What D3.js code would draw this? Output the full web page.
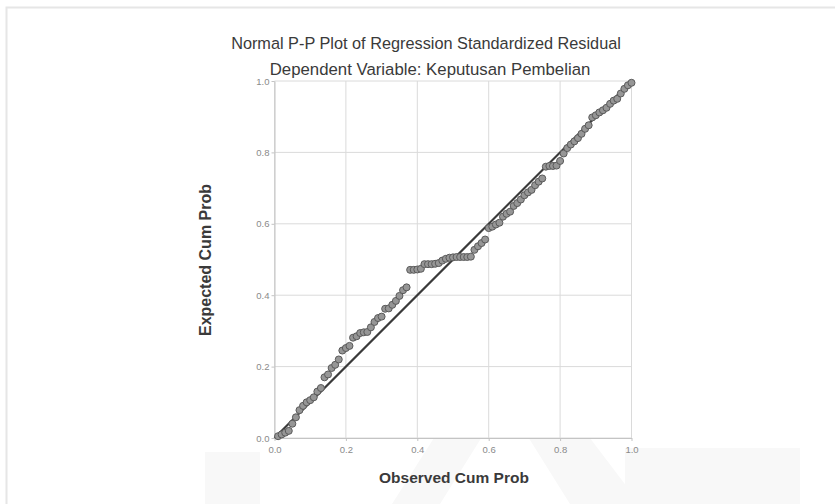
<!DOCTYPE html>
<html>
<head>
<meta charset="utf-8">
<script src="https://cdn.jsdelivr.net/npm/d3@7"></script>
<style>
  html, body { margin: 0; padding: 0; background: #ffffff; }
  svg { display: block; font-family: "Liberation Sans", Arial, sans-serif; }
</style>
</head>
<body>
<svg id="chart" width="835" height="504"></svg>
<script>
const titleText = "Normal P-P Plot of Regression Standardized Residual";
const subtitleText = "Dependent Variable: Keputusan Pembelian";
const xLabel = "Observed Cum Prob";
const yLabel = "Expected Cum Prob";
const tickValues = [0, 0.2, 0.4, 0.6, 0.8, 1.0];
const tickLabels = ["0.0", "0.2", "0.4", "0.6", "0.8", "1.0"];

const observed = [
  0.01,0.02,0.03,0.04,0.05,0.06,0.07,0.08,0.09,0.10,
  0.11,0.12,0.13,0.14,0.15,0.16,0.17,0.18,0.19,0.20,
  0.21,0.22,0.23,0.24,0.25,0.26,0.27,0.28,0.29,0.30,
  0.31,0.32,0.33,0.34,0.35,0.36,0.37,0.38,0.39,0.40,
  0.41,0.42,0.43,0.44,0.45,0.46,0.47,0.48,0.49,0.50,
  0.51,0.52,0.53,0.54,0.55,0.56,0.57,0.58,0.59,0.60,
  0.61,0.62,0.63,0.64,0.65,0.66,0.67,0.68,0.69,0.70,
  0.71,0.72,0.73,0.74,0.75,0.76,0.77,0.78,0.79,0.80,
  0.81,0.82,0.83,0.84,0.85,0.86,0.87,0.88,0.89,0.90,
  0.91,0.92,0.93,0.94,0.95,0.96,0.97,0.98,0.99,1.00
];
const expected = [
  0.005,0.010,0.015,0.020,0.040,0.058,0.078,0.090,0.100,0.106,
  0.114,0.130,0.140,0.170,0.178,0.196,0.205,0.220,0.245,0.252,
  0.258,0.281,0.285,0.294,0.296,0.297,0.310,0.325,0.336,0.340,
  0.362,0.363,0.373,0.384,0.398,0.414,0.422,0.471,0.471,0.472,
  0.474,0.487,0.487,0.487,0.488,0.490,0.497,0.502,0.505,0.506,
  0.507,0.507,0.507,0.507,0.508,0.527,0.537,0.546,0.556,0.588,
  0.592,0.598,0.603,0.620,0.628,0.634,0.650,0.658,0.668,0.680,
  0.688,0.695,0.708,0.718,0.727,0.760,0.762,0.762,0.763,0.776,
  0.797,0.812,0.822,0.831,0.840,0.852,0.866,0.876,0.898,0.904,
  0.912,0.918,0.925,0.936,0.945,0.950,0.965,0.978,0.988,0.995
];
const refLine = [[0, 0], [1, 1]];

(function () {
const svg = d3.select("#chart");

// faint screenshot frame
svg.append("rect").attr("x", 6.5).attr("y", 7.5).attr("width", 840).attr("height", 520)
  .attr("fill", "none").attr("stroke", "#e6e6e6").attr("stroke-width", 2);

// faint watermark shapes
const wm = svg.append("g").attr("fill", "#f8f8f8");
wm.append("path").attr("d", "M505,326 L392,504 L440,504 L505,400 L570,504 L640,504 Z");
wm.append("rect").attr("x", 205).attr("y", 452).attr("width", 55).attr("height", 52);
wm.append("rect").attr("x", 625).attr("y", 448).attr("width", 175).attr("height", 56);

const pL = 274.5, pR = 631.5, pT = 81, pB = 438;
const x = d3.scaleLinear().domain([0, 1]).range([pL, pR]);
const y = d3.scaleLinear().domain([0, 1]).range([pB, pT]);

// white plot background
svg.append("rect").attr("x", pL).attr("y", pT).attr("width", pR - pL).attr("height", pB - pT)
  .attr("fill", "#ffffff");

// gridlines
const grid = svg.append("g").attr("stroke", "#dadada").attr("stroke-width", 1);
tickValues.forEach(v => {
  grid.append("line").attr("x1", x(v)).attr("x2", x(v)).attr("y1", pT).attr("y2", pB);
  grid.append("line").attr("x1", pL).attr("x2", pR).attr("y1", y(v)).attr("y2", y(v));
});

// axes
const xAxis = d3.axisBottom(x).tickValues(tickValues).tickFormat((d, i) => tickLabels[i]).tickSize(3).tickSizeOuter(0);
const yAxis = d3.axisLeft(y).tickValues(tickValues).tickFormat((d, i) => tickLabels[i]).tickSize(3).tickSizeOuter(0);
const gx = svg.append("g").attr("transform", `translate(0,${pB})`).call(xAxis);
const gy = svg.append("g").attr("transform", `translate(${pL},0)`).call(yAxis);
[gx, gy].forEach(g => {
  g.select(".domain").attr("stroke", "#c4c4c4");
  g.selectAll(".tick line").attr("stroke", "#c4c4c4");
  g.selectAll(".tick text").attr("fill", "#8a8a8a").attr("font-size", 9.5)
    .attr("font-family", "'Liberation Sans', Arial, sans-serif");
});
gx.selectAll(".tick text").attr("dy", "0.9em");
gy.selectAll(".tick text").attr("x", -5);

// reference line
svg.append("path")
  .attr("d", d3.line().x(d => x(d[0])).y(d => y(d[1]))(refLine))
  .attr("stroke", "#3a3a3a").attr("stroke-width", 2.2).attr("fill", "none");

// points
svg.append("g").selectAll("circle").data(observed.map((o, i) => [o, expected[i]]))
  .join("circle")
  .attr("cx", d => x(d[0])).attr("cy", d => y(d[1])).attr("r", 3.5)
  .attr("fill", "#969696").attr("stroke", "#5a5a5a").attr("stroke-width", 1);

// titles
svg.append("text").attr("x", 426).attr("y", 49).attr("text-anchor", "middle")
  .attr("font-size", 16.3).attr("fill", "#3a3a3a").text(titleText);
svg.append("text").attr("x", 430).attr("y", 75).attr("text-anchor", "middle")
  .attr("font-size", 16.8).attr("fill", "#3a3a3a").text(subtitleText);

// axis labels
svg.append("text").attr("x", 454).attr("y", 483).attr("text-anchor", "middle")
  .attr("font-size", 15.5).attr("font-weight", "bold").attr("fill", "#3a3a3a").text(xLabel);
svg.append("text").attr("transform", "translate(211,260) rotate(-90)").attr("text-anchor", "middle")
  .attr("font-size", 16).attr("font-weight", "bold").attr("fill", "#3a3a3a").text(yLabel);
})();
</script>
</body>
</html>
